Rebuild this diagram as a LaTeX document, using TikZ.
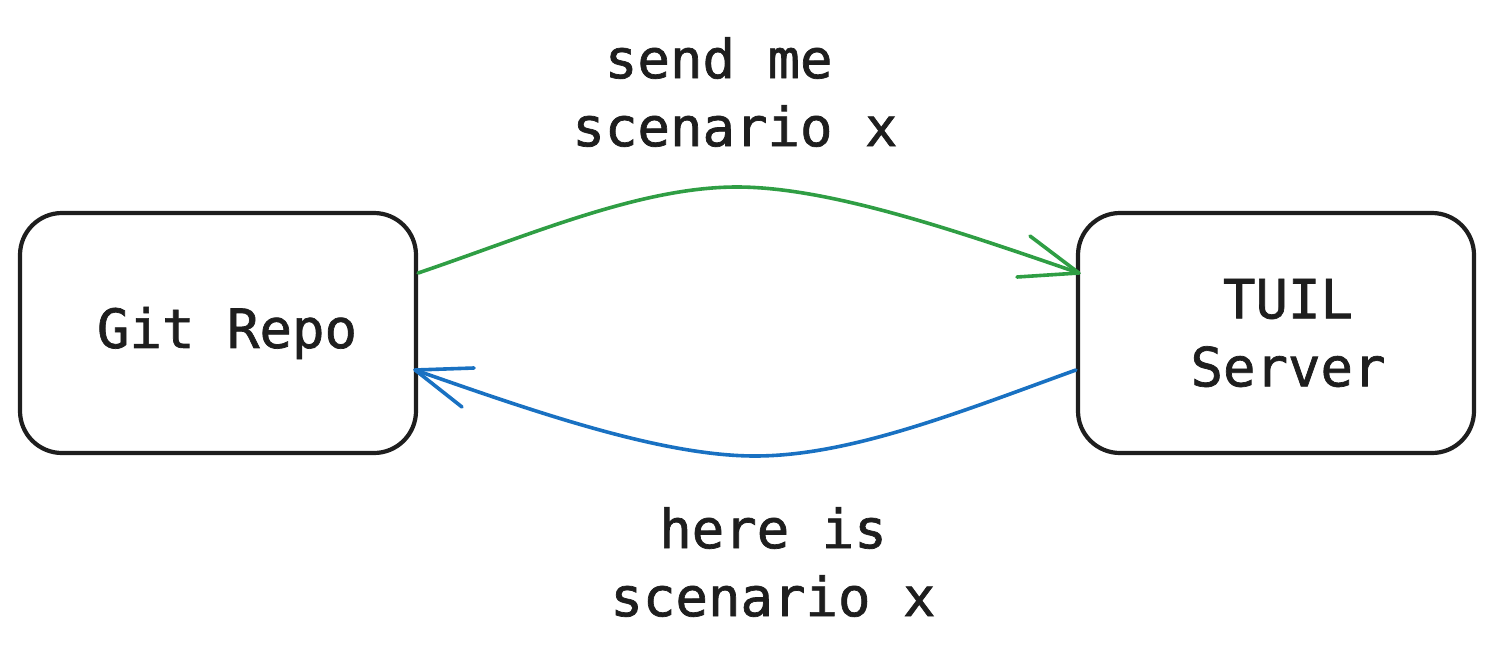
\documentclass[tikz,border=0pt]{standalone}
\usepackage{fontspec}
\newfontfamily\monof[FakeBold=1.3]{DejaVu Sans Mono}
\begin{document}
\begin{tikzpicture}[x=1pt,y=-1pt,
  box/.style={draw=ink,line width=4.2pt,rounded corners=42pt,minimum width=396pt,minimum height=240pt,inner sep=0pt},
  lbl/.style={font=\monof\fontsize{54}{68}\selectfont,text=ink,align=center,inner sep=0pt},
  conn/.style={line width=3.6pt,line cap=round,line join=round}]
\definecolor{ink}{HTML}{1E1E1E}
\definecolor{grn}{HTML}{2F9E44}
\definecolor{blu}{HTML}{1971C2}
\useasboundingbox (0,0) rectangle (1494,646);
\node[box] (git) at (218,333) {};
\node[box] (tuil) at (1276,333) {};
\node[lbl] at (227,333) {Git Repo};
\node[lbl] at (1288,333) {TUIL\\Server};
\node[lbl] (t1) at (735,92) {send me\hphantom{x}\\scenario x};
\node[lbl] (t2) at (773,562) {here is\\scenario x};
% green
\coordinate (gs) at ([yshift=60pt]git.east);
\coordinate (ge) at ([yshift=60pt,xshift=3pt]tuil.west);
\coordinate (gm) at (737,187);
\draw[conn,grn] (gs) .. controls (530,235) and (640,187) .. (gm) .. controls (830,187) and (960,232) .. (ge);
\draw[conn,grn] (1030,236) -- (ge) -- (1017,277);
% blue
\coordinate (bs) at ([yshift=-37pt]tuil.west);
\coordinate (be) at ([yshift=-37pt,xshift=-3pt]git.east);
\coordinate (bm) at (755,456);
\draw[conn,blu] (bs) .. controls (960,412) and (850,456) .. (bm) .. controls (660,456) and (530,410) .. (be);
\draw[conn,blu] (474,368) -- (be) -- (462,407);
\end{tikzpicture}
\end{document}
